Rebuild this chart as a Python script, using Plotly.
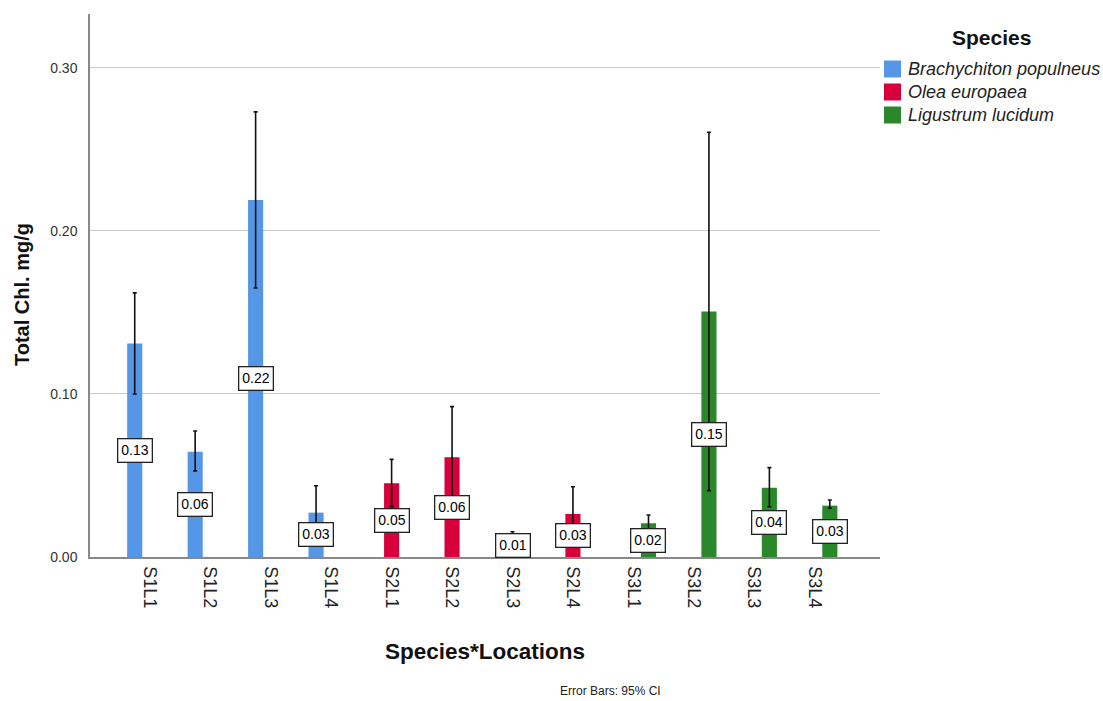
import plotly.graph_objects as go

# Species*Locations categories and per-species grouping
categories = ["S1L1", "S1L2", "S1L3", "S1L4",
              "S2L1", "S2L2", "S2L3", "S2L4",
              "S3L1", "S3L2", "S3L3", "S3L4"]
species = ["Brachychiton populneus", "Olea europaea", "Ligustrum lucidum"]
colors = ["#5596E6", "#D7003C", "#2A882A"]

# Mean total chlorophyll (mg/g) per category
means = [0.131, 0.0646, 0.219, 0.0272,
         0.0452, 0.0612, 0.0145, 0.0264,
         0.0207, 0.1505, 0.0425, 0.0315]
# 95% CI bounds
ci_upper = [0.162, 0.0773, 0.273, 0.0437,
            0.0599, 0.0922, 0.0155, 0.0431,
            0.0258, 0.2605, 0.0548, 0.0350]
ci_lower = [0.100, 0.0528, 0.165, 0.0107,
            0.0309, 0.0302, 0.0135, 0.0097,
            0.0166, 0.0407, 0.0309, 0.0299]

y_ticks = [0.0, 0.1, 0.2, 0.3]
y_tick_text = ["0.00", "0.10", "0.20", "0.30"]

FONT = "Arial, Liberation Sans, sans-serif"

# Figure / plot-area geometry in pixels
W, H = 1103, 701
L, R, T, B = 90, 223, 14, 144
PW, PH = W - L - R, H - T - B


def px(x):
    return (x - L) / PW


def py(y):
    return (H - B - y) / PH


fig = go.Figure()
for s_idx, name in enumerate(species):
    ys, up, dn = [], [], []
    for i, cat in enumerate(categories):
        if cat.startswith(f"S{s_idx + 1}"):
            ys.append(means[i])
            up.append(ci_upper[i] - means[i])
            dn.append(means[i] - ci_lower[i])
        else:
            ys.append(None)
            up.append(None)
            dn.append(None)
    fig.add_trace(go.Bar(
        x=categories, y=ys, name=name, showlegend=False,
        marker=dict(color=colors[s_idx], line=dict(width=0)),
        error_y=dict(type="data", symmetric=False, array=up, arrayminus=dn,
                     color="#111111", thickness=1.6, width=2),
    ))

# Value labels in boxes at bar mid-height
group_shift = [-15, 0, 15]
for i, cat in enumerate(categories):
    s_idx = int(cat[1]) - 1
    fig.add_annotation(
        x=cat, y=means[i] / 2, xref="x", yref="y",
        text=f"{means[i]:.2f}", showarrow=False,
        xshift=group_shift[s_idx],
        font=dict(family=FONT, size=14, color="#000000"),
        bgcolor="white", bordercolor="#222222", borderwidth=1.3, borderpad=3,
    )

# Legend: title plus colour swatches with italic species names
fig.add_annotation(
    x=px(991), y=py(37), xref="paper", yref="paper", text="<b>Species</b>",
    showarrow=False, xanchor="center", yanchor="middle",
    font=dict(family=FONT, size=21, color="#111111"),
)
row_y = [69, 92, 115]
for s_idx, name in enumerate(species):
    cy = row_y[s_idx]
    fig.add_shape(
        type="rect", xref="paper", yref="paper",
        x0=px(884), x1=px(901), y0=py(cy + 8.5), y1=py(cy - 8.5),
        fillcolor=colors[s_idx], line=dict(width=0),
    )
    fig.add_annotation(
        x=px(906), y=py(cy), xref="paper", yref="paper", text=f"<i>{name}</i>",
        showarrow=False, xanchor="left", yanchor="middle",
        font=dict(family=FONT, size=18, color="#222222"),
    )

# Axis titles
fig.add_annotation(
    x=px(485), y=py(651), xref="paper", yref="paper",
    text="<b>Species*Locations</b>", showarrow=False,
    xanchor="center", yanchor="middle",
    font=dict(family=FONT, size=22.5, color="#111111"),
)
fig.add_annotation(
    x=px(22), y=py(295), xref="paper", yref="paper",
    text="<b>Total Chl. mg/g</b>", showarrow=False, textangle=-90,
    xanchor="center", yanchor="middle",
    font=dict(family=FONT, size=20, color="#111111"),
)

fig.add_annotation(
    x=px(610), y=py(691), xref="paper", yref="paper", text="Error Bars: 95% CI",
    showarrow=False, xanchor="center", yanchor="middle",
    font=dict(family=FONT, size=12, color="#222222"),
)

fig.update_layout(
    width=W, height=H,
    margin=dict(l=L, r=R, t=T, b=B),
    paper_bgcolor="white", plot_bgcolor="white",
    barmode="group", bargap=0.25, bargroupgap=0,
    font=dict(family=FONT, color="#222222"),
    showlegend=False,
    xaxis=dict(
        type="category", range=[-0.99, 12.08],
        tickangle=90, tickfont=dict(family=FONT, size=18, color="#222222"),
        showline=True, linecolor="#888888", linewidth=1.5,
        showgrid=False, ticks="", ticklabelstandoff=4,
    ),
    yaxis=dict(
        range=[0, 0.333], tickvals=y_ticks, ticktext=y_tick_text,
        tickfont=dict(family=FONT, size=14, color="#333333"),
        showline=True, linecolor="#888888", linewidth=1.5,
        showgrid=True, gridcolor="#C8C8C8", gridwidth=1,
        zeroline=False, ticks="", ticklabelstandoff=8,
    ),
)

fig.write_html("out.html")
